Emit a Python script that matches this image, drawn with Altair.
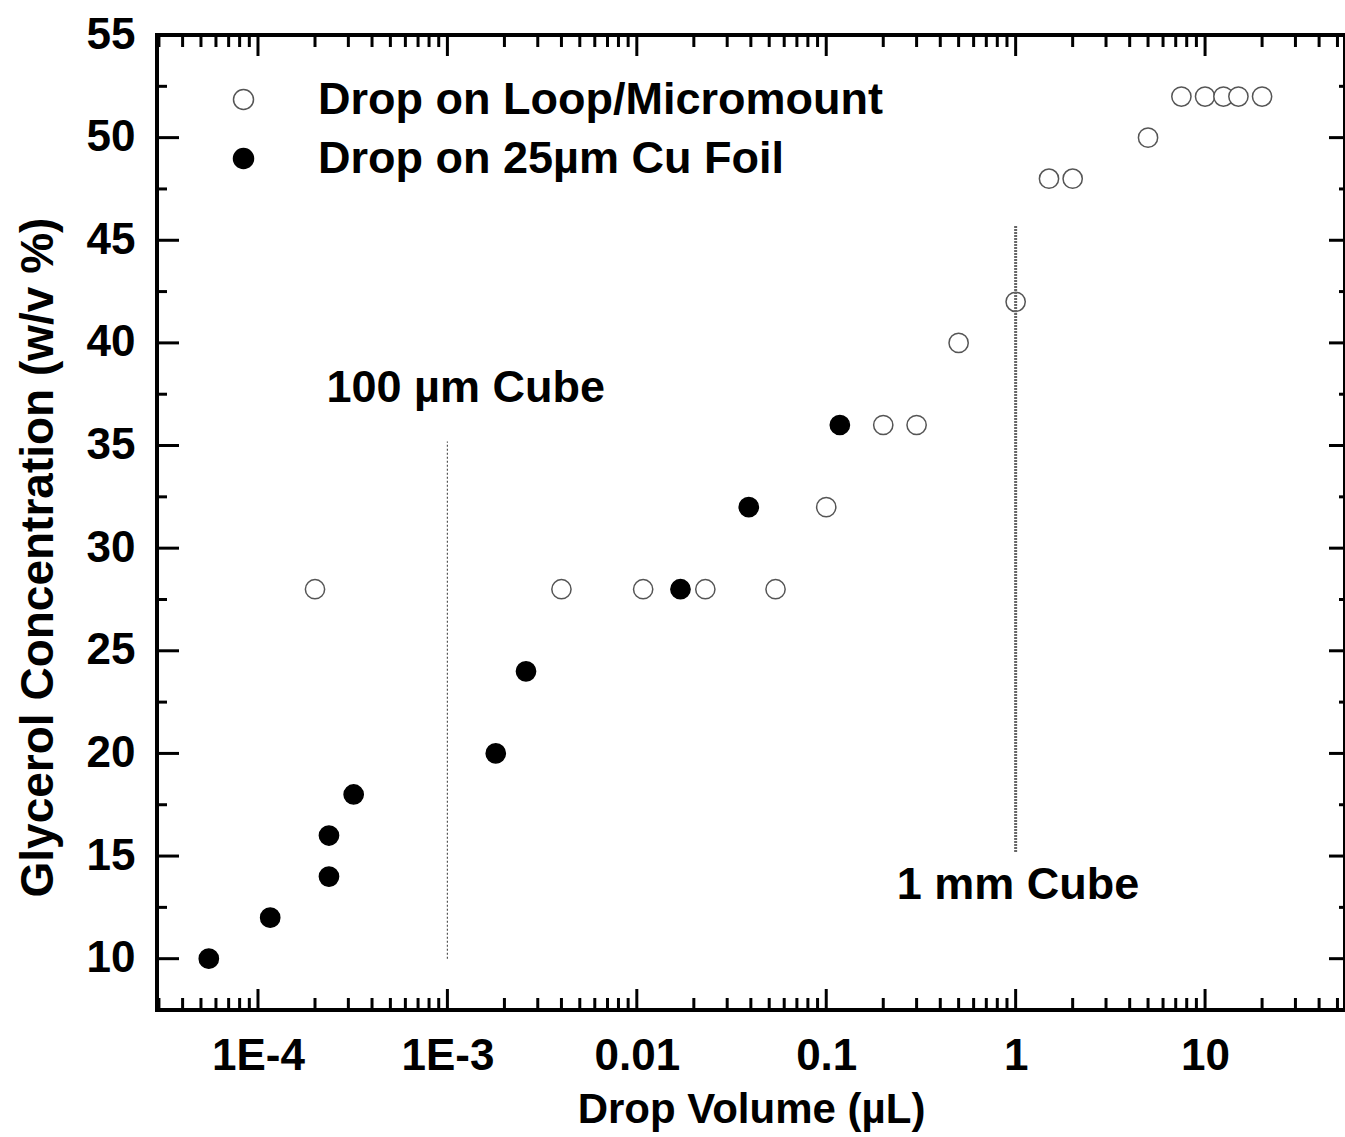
import altair as alt
import pandas as pd

# ---------------- data ----------------
loop_x = [2.0e-4, 0.004, 0.0108, 0.023, 0.054, 0.1, 0.2, 0.3, 0.5, 1.0, 1.5, 2.0, 5.0, 7.5, 10.0, 12.5, 15.0, 20.0]
loop_y = [28, 28, 28, 28, 28, 32, 36, 36, 40, 42, 48, 48, 50, 52, 52, 52, 52, 52]
foil_x = [5.5e-5, 1.16e-4, 2.37e-4, 2.37e-4, 3.2e-4, 1.8e-3, 2.6e-3, 0.017, 0.039, 0.118]
foil_y = [10, 12, 14, 16, 18, 20, 24, 28, 32, 36]
series_names = ["Drop on Loop/Micromount", "Drop on 25\u00b5m Cu Foil"]

x_tick_values = [1e-4, 1e-3, 0.01, 0.1, 1, 10]
x_tick_labels = ["1E-4", "1E-3", "0.01", "0.1", "1", "10"]
x_minor_values = [m * 10.0 ** e for e in range(-5, 2) for m in range(2, 10) if 2.93e-5 <= m * 10.0 ** e <= 54.8]
y_tick_values = [10, 15, 20, 25, 30, 35, 40, 45, 50, 55]
y_minor_values = [7.5, 12.5, 17.5, 22.5, 27.5, 32.5, 37.5, 42.5, 47.5, 52.5]

cube100_x = [1e-3, 1e-3]
cube100_y = [10, 35.2]
cube1mm_x = [1.0, 1.0]
cube1mm_y = [15.2, 45.7]
ann_text = ["100 \u00b5m Cube", "1 mm Cube"]
ann_x = [1.25e-3, 1.03]
ann_y = [37.8, 13.6]

X_DOMAIN = [2.93e-5, 54.8]
Y_DOMAIN = [7.5, 55]
W, H = 1188, 975
FONT = "Liberation Sans"

# ---------------- tables ----------------
pts = pd.DataFrame({
    "x": loop_x + foil_x,
    "y": loop_y + foil_y,
    "series": [series_names[0]] * len(loop_x) + [series_names[1]] * len(foil_x),
})
xs = alt.Scale(type="log", domain=X_DOMAIN, nice=False)
ys = alt.Scale(domain=Y_DOMAIN, nice=False, zero=False)

label_expr = ""
for v, l in zip(x_tick_values, x_tick_labels):
    label_expr += f"datum.value < {v * 1.5} ? '{l}' : "
label_expr += "''"

legend = alt.Legend(
    title=None, orient="none", legendX=64, legendY=42, padding=0,
    labelFont=FONT, labelFontWeight="bold", labelFontSize=45, labelColor="black",
    labelOffset=52, rowPadding=13, symbolSize=400, symbolStrokeWidth=1.5,
    labelLimit=1000,
)

points = alt.Chart(pts).mark_point(filled=True, size=370, strokeWidth=1.5, opacity=1).encode(
    x=alt.X("x:Q", scale=xs, title="Drop Volume (\u00b5L)",
            axis=alt.Axis(values=x_tick_values, labelExpr=label_expr, ticks=False, domain=False, grid=False,
                          labelFont=FONT, labelFontWeight="bold", labelFontSize=44, labelColor="black",
                          labelPadding=24, titleFont=FONT, titleFontWeight="bold", titleFontSize=42,
                          titleColor="black", titlePadding=11, labelFlush=False)),
    y=alt.Y("y:Q", scale=ys, title="Glycerol Concentration (w/v %)",
            axis=alt.Axis(values=y_tick_values, ticks=False, domain=False, grid=False,
                          labelFont=FONT, labelFontWeight="bold", labelFontSize=44, labelColor="black",
                          labelPadding=22, titleFont=FONT, titleFontWeight="bold", titleFontSize=46,
                          titleColor="black", titlePadding=24, titleY=522, labelFlush=False)),
    fill=alt.Fill("series:N", scale=alt.Scale(domain=series_names, range=["white", "black"]), legend=legend),
    stroke=alt.Stroke("series:N", scale=alt.Scale(domain=series_names, range=["#555555", "black"]), legend=legend),
)

# ---------------- inward ticks ----------------
def xticks(vals, y0, y1):
    return alt.Chart(pd.DataFrame({"v": vals})).mark_rule(color="black", strokeWidth=3).encode(
        x=alt.X("v:Q", scale=xs), y=alt.value(y0), y2=alt.value(y1))

def yticks(vals, x0, x1):
    return alt.Chart(pd.DataFrame({"v": vals})).mark_rule(color="black", strokeWidth=3).encode(
        y=alt.Y("v:Q", scale=ys), x=alt.value(x0), x2=alt.value(x1))

ticks = [
    xticks(x_tick_values, H, H - 21), xticks(x_minor_values, H, H - 12),
    xticks(x_tick_values, 0, 21), xticks(x_minor_values, 0, 12),
    yticks(y_tick_values, 0, 22), yticks(y_minor_values, 0, 10),
    yticks(y_tick_values, W, W - 16), yticks(y_minor_values, W, W - 6),
]

# ---------------- cube lines & annotations ----------------
line1 = alt.Chart(pd.DataFrame({"x": cube100_x, "y": cube100_y})).mark_line(
    color="#555555", strokeWidth=1.2, strokeDash=[2, 2]).encode(
    x=alt.X("x:Q", scale=xs), y=alt.Y("y:Q", scale=ys))
line2 = alt.Chart(pd.DataFrame({"x": cube1mm_x, "y": cube1mm_y})).mark_line(
    color="#666666", strokeWidth=3, strokeDash=[2, 1]).encode(
    x=alt.X("x:Q", scale=xs), y=alt.Y("y:Q", scale=ys))
ann = alt.Chart(pd.DataFrame({"t": ann_text, "x": ann_x, "y": ann_y})).mark_text(
    font=FONT, fontWeight="bold", fontSize=45, color="black", align="center", baseline="middle").encode(
    x=alt.X("x:Q", scale=xs), y=alt.Y("y:Q", scale=ys), text="t:N")

chart = alt.layer(points, line1, line2, ann, *ticks).properties(
    width=W, height=H,
    autosize=alt.AutoSizeParams(type="none"),
    padding={"left": 157, "top": 35, "right": 0, "bottom": 127},
    background="white",
).configure_view(stroke="black", strokeWidth=4).configure_legend(symbolSize=400)

chart.save("out.html", embed_options={"renderer": "svg", "actions": False})
